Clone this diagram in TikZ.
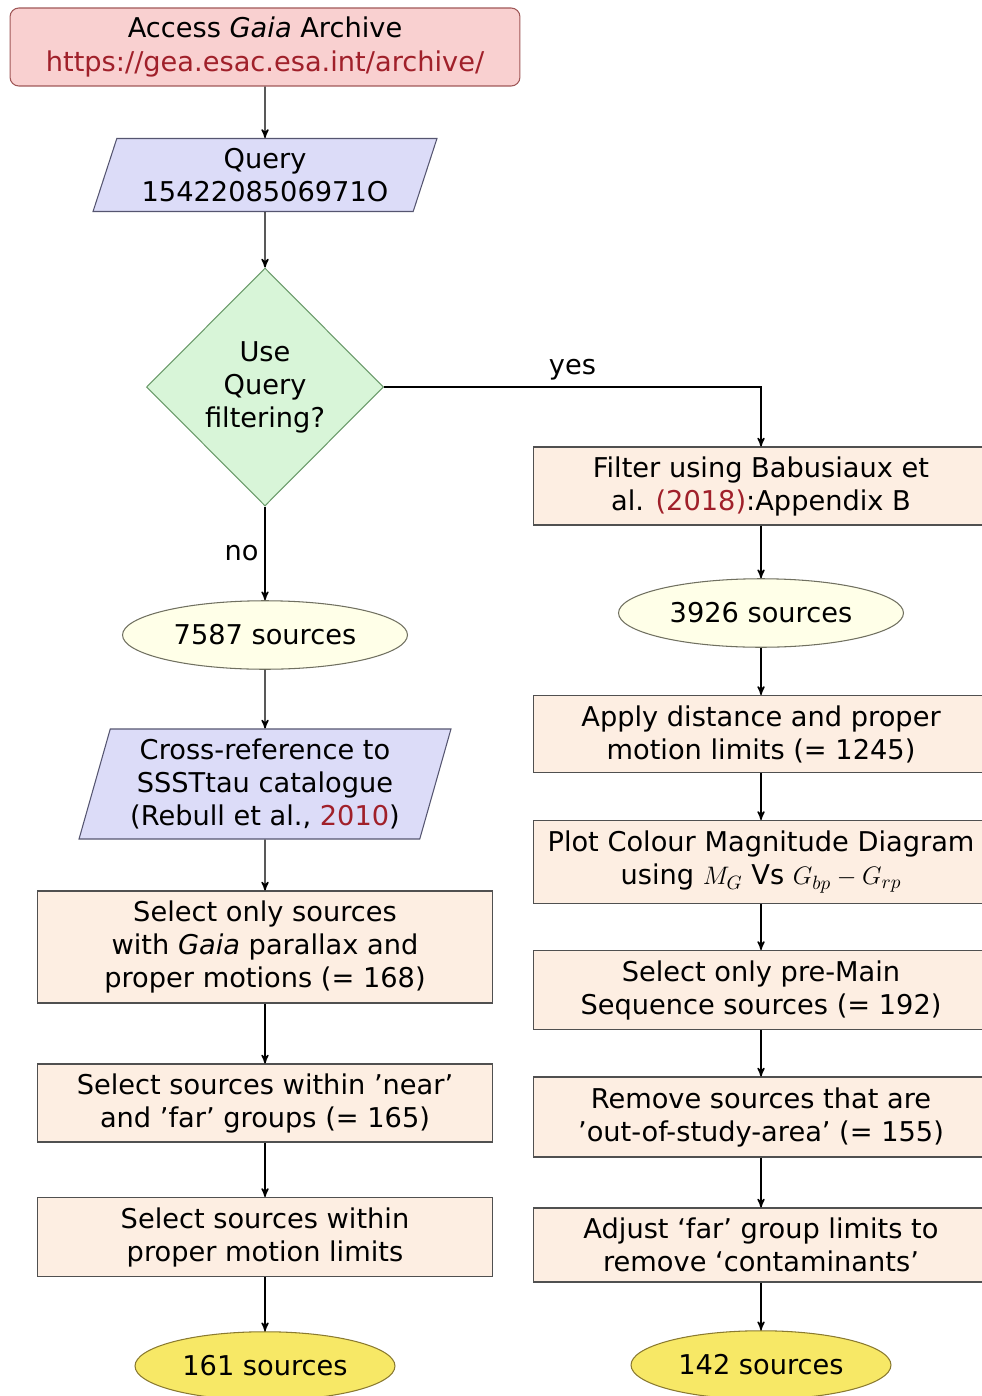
\documentclass[tikz,border=0pt]{standalone}
\usepackage{fontspec}
\setmainfont{DejaVu Sans}
\usepackage{xcolor}
\usetikzlibrary{arrows,shapes.geometric}

\definecolor{archfill}{HTML}{F9D0D0}
\definecolor{archdraw}{HTML}{A05858}
\definecolor{citered}{HTML}{A0202A}
\definecolor{qfill}{HTML}{DCDCF8}
\definecolor{qdraw}{HTML}{555570}
\definecolor{dfill}{HTML}{D8F5D8}
\definecolor{ddraw}{HTML}{6A9A6A}
\definecolor{cfill}{HTML}{FFFFE8}
\definecolor{cdraw}{HTML}{707060}
\definecolor{bfill}{HTML}{FDEEE2}
\definecolor{bdraw}{HTML}{505050}
\definecolor{ffill}{HTML}{F7E866}
\definecolor{fdraw}{HTML}{8A7A30}

\newcommand{\refyr}[1]{\textcolor{citered}{#1}}

\tikzset{
  every node/.style={font=\fontsize{15.5}{18.8}\selectfont, align=center},
  archive/.style={rectangle, rounded corners=5pt, draw=archdraw, fill=archfill,
    line width=0.6pt, minimum width=10.2cm, minimum height=1.56cm},
  query/.style={trapezium, trapezium left angle=70, trapezium right angle=110,
    trapezium stretches body, draw=qdraw, fill=qfill, line width=0.6pt},
  decide/.style={diamond, draw=ddraw, fill=dfill, line width=0.6pt,
    minimum width=4.74cm, minimum height=4.76cm, inner sep=0pt},
  count/.style={ellipse, draw=cdraw, fill=cfill, line width=0.6pt,
    minimum width=5.7cm, minimum height=1.37cm},
  final/.style={ellipse, draw=fdraw, fill=ffill, line width=0.6pt,
    minimum width=5.2cm, minimum height=1.37cm},
  stepbox/.style={rectangle, draw=bdraw, fill=bfill, line width=0.6pt,
    minimum width=9.1cm},
  >=stealth'
}

\begin{document}
\begin{tikzpicture}[x=0.02cm, y=-0.02cm]
  \useasboundingbox (0,0) rectangle (981,1396);

  % left column
  \node[archive] (archive) at (265,47) {Access \textit{Gaia} Archive\\\refyr{https://gea.esac.esa.int/archive/}};
  \node[query, minimum width=6.88cm, minimum height=1.46cm] (query) at (265,175) {Query\\1542208506971O};
  \node[decide] (usefilt) at (265,387) {Use\\Query\\filtering?};
  \node[count] (n7587) at (265,635) {7587 sources};
  \node[query, trapezium left angle=73, trapezium right angle=107,
    minimum width=7.44cm, minimum height=2.2cm] (xref) at (265,784) {Cross-reference to\\SSSTtau catalogue\\(Rebull et al., \refyr{2010})};
  \node[stepbox, minimum height=2.24cm] (gaiapm) at (265,947) {Select only sources\\with \textit{Gaia} parallax and\\proper motions (= 168)};
  \node[stepbox, minimum height=1.56cm] (groups) at (265,1103) {Select sources within ’near’\\and ’far’ groups (= 165)};
  \node[stepbox, minimum height=1.58cm] (pmlim) at (265,1237) {Select sources within\\proper motion limits};
  \node[final] (n161) at (265,1366) {161 sources};

  % right column
  \node[stepbox, minimum width=9.12cm, minimum height=1.56cm] (babu) at (761,486) {Filter using Babusiaux et\\al. \refyr{(2018)}:Appendix B};
  \node[count] (n3926) at (761,613) {3926 sources};
  \node[stepbox, minimum width=9.12cm, minimum height=1.54cm] (dist) at (761,734) {Apply distance and proper\\motion limits (= 1245)};
  \node[stepbox, minimum width=9.12cm, minimum height=1.66cm] (cmd) at (761,862) {Plot Colour Magnitude Diagram\\using $M_G$ Vs $G_{bp}-G_{rp}$};
  \node[stepbox, minimum width=9.12cm, minimum height=1.58cm] (pms) at (761,990) {Select only pre-Main\\Sequence sources (= 192)};
  \node[stepbox, minimum width=9.12cm, minimum height=1.6cm] (area) at (761,1117) {Remove sources that are\\’out-of-study-area’ (= 155)};
  \node[stepbox, minimum width=9.12cm, minimum height=1.48cm] (contam) at (761,1245) {Adjust ‘far’ group limits to\\remove ‘contaminants’};
  \node[final] (n142) at (761,1365) {142 sources};

  \path[->, line width=0.8pt]
  (archive) edge (query)
  (query) edge (usefilt)
  (usefilt) edge node [left] {no} (n7587)
  (n7587) edge (xref)
  (xref) edge (gaiapm)
  (gaiapm) edge (groups)
  (groups) edge (pmlim)
  (pmlim) edge (n161)
  (babu) edge (n3926)
  (n3926) edge (dist)
  (dist) edge (cmd)
  (cmd) edge (pms)
  (pms) edge (area)
  (area) edge (contam)
  (contam) edge (n142)
;
  \draw[->, line width=0.8pt] (usefilt.east) -| node [pos=0.25, above] {yes} (babu.north);
\end{tikzpicture}
\end{document}
